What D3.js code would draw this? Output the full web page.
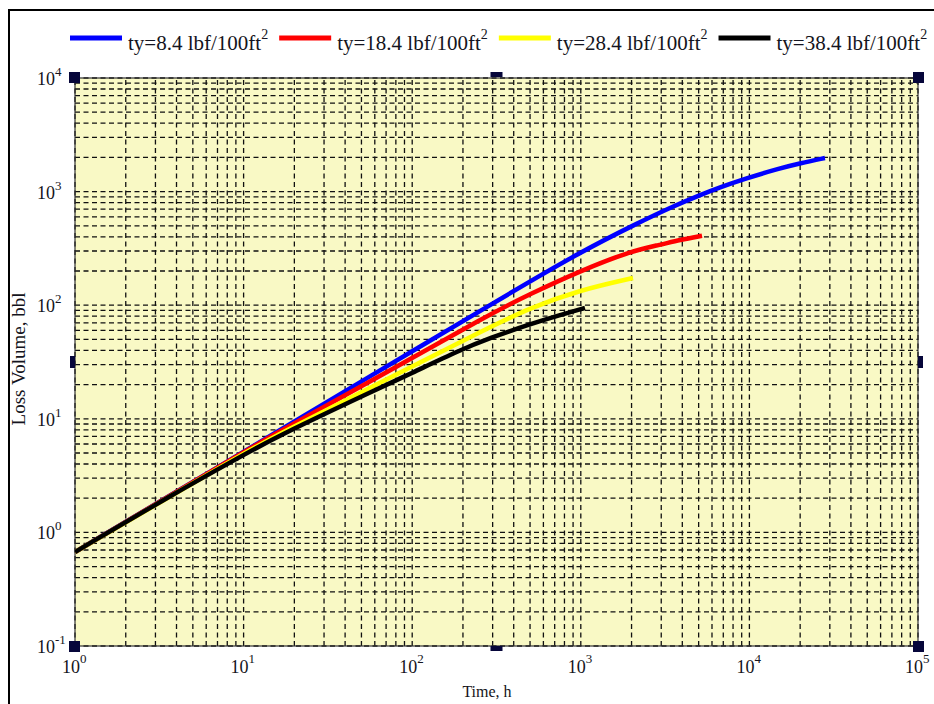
<!DOCTYPE html>
<html lang="en">
<head>
<meta charset="utf-8">
<script src="https://cdn.jsdelivr.net/npm/d3@7"></script>
<title>Loss Volume vs Time</title>
<style>
  body { margin: 0; background: #fff; }
  text { font-family: "Liberation Serif", "Times New Roman", serif; fill: #141420; }
</style>
</head>
<body>
<div id="chart"></div>
<script>
// series data: [time h, loss volume bbl]
const ty8 = [[1,0.672],[10,5.13],[15.36,7.5],[60.2,25.1],[289,100.4],[989,294],[2245,540],[3380,721],[5090,933],[6700,1091],[9420,1300],[15180,1604],[19950,1775],[28060,1977]];
const ty18 = [[1,0.672],[10,5.1],[15.36,7.35],[60.2,22.4],[289,83.7],[500,125.5],[989,200],[1958,298],[2950,340],[3876,376],[5235,408]];
const ty28 = [[1,0.672],[10,4.95],[15.36,7.06],[60.2,19.8],[289,64.3],[500,94.5],[989,136],[2040,173.5]];
const ty38 = [[1,0.672],[3.92,2.22],[10,4.8],[15.36,6.85],[60.2,17.9],[97,24.8],[192,40.3],[289,51.4],[500,68.3],[753,82],[1059,94.5]];

const seriesNames = ["ty=8.4 lbf/100ft", "ty=18.4 lbf/100ft", "ty=28.4 lbf/100ft", "ty=38.4 lbf/100ft"];
const seriesColors = ["#0000ff", "#ff0000", "#ffff00", "#000000"];
const seriesData = [ty8, ty18, ty28, ty38];

const xDecades = [0, 1, 2, 3, 4, 5];
const yDecades = [-1, 0, 1, 2, 3, 4];

const W = 934, H = 704;
const plot = {left: 75, right: 918, top: 78, bottom: 646};

const svg = d3.select("#chart").append("svg")
    .attr("width", W).attr("height", H);

// outer frame
svg.append("rect")
    .attr("x", 9).attr("y", 10)
    .attr("width", 1000).attr("height", 800)
    .attr("fill", "none").attr("stroke", "#000").attr("stroke-width", 2);

const x = d3.scaleLog().domain([1, 1e5]).range([plot.left, plot.right]);
const y = d3.scaleLog().domain([0.1, 1e4]).range([plot.bottom, plot.top]);

// plot background
svg.append("rect")
    .attr("x", plot.left).attr("y", plot.top)
    .attr("width", plot.right - plot.left).attr("height", plot.bottom - plot.top)
    .attr("fill", "#f9f9c5");

// grid
const grid = svg.append("g")
    .attr("stroke", "#111").attr("stroke-width", 1.3)
    .attr("stroke-dasharray", "5,3.5");

grid.selectAll("line.vx")
    .data(x.ticks())
    .enter().append("line")
    .attr("x1", d => x(d)).attr("x2", d => x(d))
    .attr("y1", plot.bottom).attr("y2", plot.top);

grid.selectAll("line.hy")
    .data(y.ticks())
    .enter().append("line")
    .attr("x1", plot.left).attr("x2", plot.right)
    .attr("y1", d => y(d)).attr("y2", d => y(d));

// plot border
svg.append("rect")
    .attr("x", plot.left).attr("y", plot.top)
    .attr("width", plot.right - plot.left).attr("height", plot.bottom - plot.top)
    .attr("fill", "none").attr("stroke", "#333").attr("stroke-width", 1.2);

// curves
svg.append("clipPath").attr("id", "clip")
    .append("rect")
    .attr("x", plot.left).attr("y", plot.top)
    .attr("width", plot.right - plot.left).attr("height", plot.bottom - plot.top);

const line = d3.line()
    .x(d => x(d[0]))
    .y(d => y(d[1]))
    .curve(d3.curveBasis);

svg.append("g").attr("clip-path", "url(#clip)")
    .selectAll("path")
    .data(seriesData)
    .enter().append("path")
    .attr("d", line)
    .attr("fill", "none")
    .attr("stroke", (d, i) => seriesColors[i])
    .attr("stroke-width", 4.5)
    .attr("stroke-linejoin", "round");

// tick labels
const xl = svg.append("g").selectAll("text")
    .data(xDecades)
    .enter().append("text")
    .attr("x", d => x(Math.pow(10, d)) - 13)
    .attr("y", 673)
    .style("font-size", "18px");
xl.append("tspan").text("10");
xl.append("tspan").attr("dy", -10).style("font-size", "13px").text(d => d);

const yl = svg.append("g").selectAll("text")
    .data(yDecades)
    .enter().append("text")
    .attr("x", 37)
    .attr("y", d => y(Math.pow(10, d)) + 7)
    .style("font-size", "18px");
yl.append("tspan").text("10");
yl.append("tspan").attr("dy", -9).style("font-size", "13px").text(d => d);

// axis titles
svg.append("text")
    .attr("x", 487).attr("y", 697)
    .attr("text-anchor", "middle")
    .style("font-size", "16px")
    .text("Time, h");

svg.append("text")
    .attr("transform", "translate(25,359) rotate(-90)")
    .attr("text-anchor", "middle")
    .style("font-size", "19px")
    .text("Loss Volume, bbl");

// selection handles
const handles = [
    [plot.left - 6, plot.top - 6, 11, 11], [(plot.left + plot.right) / 2 - 6, plot.top - 6, 12, 5], [plot.right - 5, plot.top - 6, 11, 11],
    [plot.left - 5, (plot.top + plot.bottom) / 2 - 6, 5, 12], [plot.right, (plot.top + plot.bottom) / 2 - 6, 5, 12],
    [plot.left - 6, plot.bottom - 5, 11, 11], [(plot.left + plot.right) / 2 - 6, plot.bottom, 12, 5], [plot.right - 5, plot.bottom - 5, 11, 11]
];
svg.append("g").selectAll("rect")
    .data(handles)
    .enter().append("rect")
    .attr("x", d => d[0]).attr("y", d => d[1])
    .attr("width", d => d[2]).attr("height", d => d[3])
    .attr("fill", "#06063a");

// legend
const legend = svg.append("g");
let lx = 70;
seriesNames.forEach((name, i) => {
    legend.append("line")
        .attr("x1", lx).attr("x2", lx + 52)
        .attr("y1", 38).attr("y2", 38)
        .attr("stroke", seriesColors[i]).attr("stroke-width", 5);
    const t = legend.append("text")
        .attr("x", lx + 58).attr("y", 50)
        .style("font-size", "21px");
    t.append("tspan").text(name);
    t.append("tspan").attr("dy", -11).style("font-size", "14px").text("2");
    lx += 58 + t.node().getComputedTextLength() + 11;
});
</script>
</body>
</html>
